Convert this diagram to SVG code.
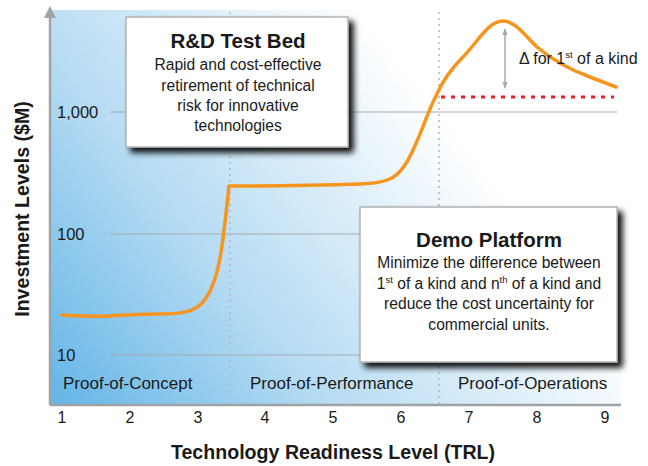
<svg xmlns="http://www.w3.org/2000/svg" width="648" height="466" viewBox="0 0 648 466">
<defs>
<linearGradient id="bg" gradientUnits="userSpaceOnUse" x1="50" y1="420" x2="440" y2="110">
<stop offset="0" stop-color="#5fb3e6"/>
<stop offset="0.45" stop-color="#b5dbf3"/>
<stop offset="1" stop-color="#ffffff"/>
</linearGradient>
<filter id="shadow" x="-10%" y="-10%" width="125%" height="130%">
<feGaussianBlur in="SourceAlpha" stdDeviation="3"/>
<feOffset dx="5" dy="5" result="b"/>
<feComponentTransfer in="b" result="s"><feFuncA type="linear" slope="0.95"/></feComponentTransfer>
<feMerge><feMergeNode in="s"/><feMergeNode in="SourceGraphic"/></feMerge>
</filter>
<marker id="ah" viewBox="0 0 10 10" refX="9" refY="5" markerWidth="7" markerHeight="7" orient="auto-start-reverse" markerUnits="userSpaceOnUse">
<path d="M0,1 L10,5 L0,9 Z" fill="#a7a9ac"/>
</marker>
</defs>
<style>
text{font-family:"Liberation Sans",Arial,sans-serif;fill:#1a1a1a}
.tick{font-size:16px;text-anchor:middle}
.ylab{font-size:16.5px}
.phase{font-size:17px}
.title{font-size:20.5px;font-weight:bold;text-anchor:middle}
.body{font-size:15.6px;text-anchor:middle}
.axt{font-size:19.6px;font-weight:bold;text-anchor:middle}
.grid{stroke:#a8abae;stroke-width:1.2}
.vdot{stroke:#b4b7ba;stroke-width:1.5;stroke-dasharray:2 4}
.box{fill:#ffffff;stroke:#b3b3b3;stroke-width:1.5}
</style>
<g id="plot">
<rect x="50" y="10" width="571" height="395" fill="url(#bg)"/>
<line class="grid" x1="110" y1="112" x2="617" y2="112"/>
<line class="grid" x1="110" y1="234" x2="617" y2="234"/>
<line class="grid" x1="110" y1="355" x2="617" y2="355"/>
<line class="vdot" x1="230" y1="12" x2="230" y2="404"/>
<line class="vdot" x1="439" y1="12" x2="439" y2="404"/>
<line x1="50" y1="405" x2="621" y2="405" stroke="#a0a3a6" stroke-width="2.5"/>
<line x1="50" y1="405" x2="50" y2="16" stroke="#a0a3a6" stroke-width="2.5"/>
<path d="M44,18 L50,6 L56,18 Z" fill="#a0a3a6"/>
</g>
<g id="labels">
<text class="ylab" x="57" y="118">1,000</text>
<text class="ylab" x="57" y="240">100</text>
<text class="ylab" x="57" y="361">10</text>
<text class="tick" x="62" y="423">1</text>
<text class="tick" x="130" y="423">2</text>
<text class="tick" x="198" y="423">3</text>
<text class="tick" x="265" y="423">4</text>
<text class="tick" x="333" y="423">5</text>
<text class="tick" x="401" y="423">6</text>
<text class="tick" x="469" y="423">7</text>
<text class="tick" x="537" y="423">8</text>
<text class="tick" x="605" y="423">9</text>
<text class="phase" x="63" y="389">Proof-of-Concept</text>
<text class="phase" x="250" y="389">Proof-of-Performance</text>
<text class="phase" x="458" y="389">Proof-of-Operations</text>
<text class="axt" x="333" y="459">Technology Readiness Level (TRL)</text>
<text class="axt" transform="translate(29,209) rotate(-90)">Investment Levels ($M)</text>
</g>
<g id="connectors">
<line x1="441" y1="97" x2="614" y2="97" stroke="#ed1c24" stroke-width="3" stroke-dasharray="4 6"/>
<line x1="505" y1="29" x2="505" y2="88" stroke="#a7a9ac" stroke-width="1.5" marker-start="url(#ah)" marker-end="url(#ah)"/>
<path d="M62,315 C80,316 95,317 110,316 C125,315 135,314 160,314 C180,314 192,312 200,305 C210,296 216,280 220,258 C223,242 226,215 229,186 C280,186 330,185 360,184 C385,183 395,180 405,165 C418,145 427,112 436,96 C443,80 452,68 462,58 C478,42 488,21 503,21 C516,21 526,37 537,47 C552,60 568,69 590,77 L616,87" fill="none" stroke="#f7941d" stroke-width="3.5" stroke-linejoin="round" stroke-linecap="round"/>
<text x="519" y="64" style="font-size:16px">Δ for 1<tspan style="font-size:9.5px" dy="-6">st</tspan><tspan dy="6"> of a kind</tspan></text>
</g>
<g id="rnd">
<rect class="box" x="126" y="17" width="222" height="130" filter="url(#shadow)"/>
<text class="title" x="238" y="48">R&amp;D Test Bed</text>
<text class="body" x="238" y="70">Rapid and cost-effective</text>
<text class="body" x="238" y="91">retirement of technical</text>
<text class="body" x="238" y="111">risk for innovative</text>
<text class="body" x="238" y="131">technologies</text>
</g>
<g id="demo">
<rect class="box" x="360" y="207" width="257" height="155" filter="url(#shadow)"/>
<text class="title" x="489" y="247">Demo Platform</text>
<text class="body" x="489" y="268">Minimize the difference between</text>
<text class="body" x="489" y="289">1<tspan style="font-size:9.5px" dy="-6">st</tspan><tspan dy="6"> of a kind and n</tspan><tspan style="font-size:9.5px" dy="-6">th</tspan><tspan dy="6"> of a kind and</tspan></text>
<text class="body" x="489" y="309">reduce the cost uncertainty for</text>
<text class="body" x="489" y="330">commercial units.</text>
</g>
</svg>
